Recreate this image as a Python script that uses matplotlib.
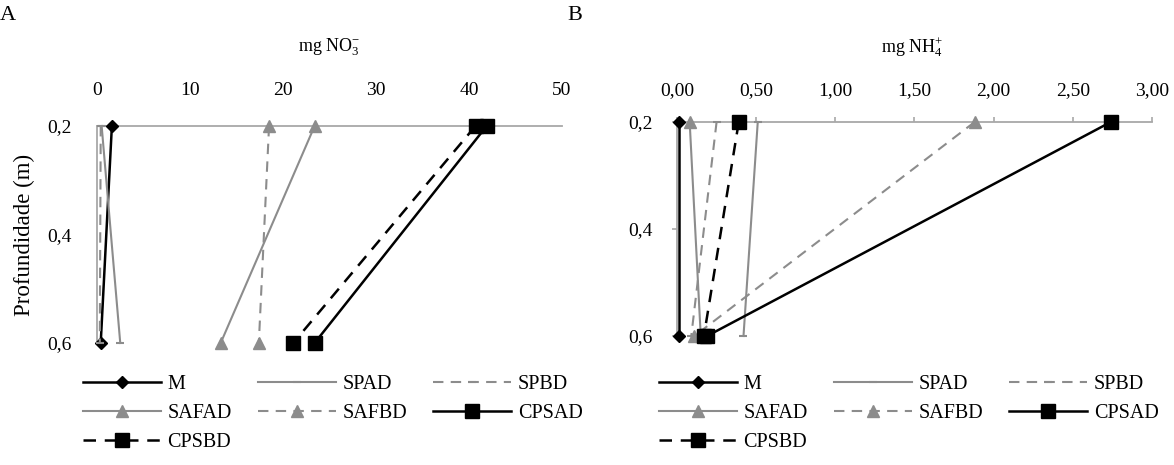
import numpy as np
import matplotlib
matplotlib.use('Agg')
import matplotlib.pyplot as plt
from matplotlib.ticker import FuncFormatter

plt.rcParams['font.family'] = ['Liberation Serif', 'DejaVu Serif']
plt.rcParams['mathtext.default'] = 'regular'

# profundidade (m)
depth = [0.2, 0.6]
series = ['M', 'SPAD', 'SPBD', 'SAFAD', 'SAFBD', 'CPSAD', 'CPSBD']

# A - mg NO3-
no3_M = [1.6, 0.4]
no3_SPAD = [0.5, 2.5]
no3_SPBD = [0.4, 0.3]
no3_SAFAD = [23.4, 13.3]
no3_SAFBD = [18.5, 17.4]
no3_CPSAD = [41.9, 23.4]
no3_CPSBD = [40.7, 21.1]

# B - mg NH4+
nh4_M = [0.01, 0.01]
nh4_SPAD = [0.51, 0.42]
nh4_SPBD = [0.25, 0.09]
nh4_SAFAD = [0.08, 0.15]
nh4_SAFBD = [1.88, 0.11]
nh4_CPSAD = [2.74, 0.19]
nh4_CPSBD = [0.39, 0.17]

no3_ticks = [0, 10, 20, 30, 40, 50]
nh4_ticks = [0, 0.5, 1.0, 1.5, 2.0, 2.5, 3.0]
depth_ticks = [0.2, 0.4, 0.6]

GRAY = '#8c8c8c'
AXGRAY = '#a8a8a8'
DASH = (0, (5, 3.5))
styles = {
    'M':     dict(color='black', ls='-', marker='D', ms=6, lw=1.8),
    'SPAD':  dict(color=GRAY, ls='-', marker='_', ms=6, mew=1.5, lw=1.5),
    'SPBD':  dict(color=GRAY, ls=DASH, marker='_', ms=6, mew=1.5, lw=1.5),
    'SAFAD': dict(color=GRAY, ls='-', marker='^', ms=9, lw=1.5),
    'SAFBD': dict(color=GRAY, ls=DASH, marker='^', ms=9, lw=1.5),
    'CPSAD': dict(color='black', ls='-', marker='s', ms=10, lw=1.8),
    'CPSBD': dict(color='black', ls=DASH, marker='s', ms=10, lw=1.8),
}
# legend is filled row by row in the original
leg_order = ['M', 'SAFAD', 'CPSBD', 'SPAD', 'SAFBD', 'SPBD', 'CPSAD']


def comma(fmt):
    return FuncFormatter(lambda v, p: (fmt % v).replace('.', ','))


def draw(ax, data, xticks, xfmt, xmax, with_ticks):
    lines = {}
    for name, vals in zip(series, data):
        l, = ax.plot(vals, depth, label=name, clip_on=False, zorder=3, **styles[name])
        lines[name] = l
    ax.set_xlim(0, xmax)
    ax.set_ylim(0.6, 0.2)
    ax.xaxis.tick_top()
    ax.set_xticks(xticks)
    ax.set_yticks(depth_ticks)
    ax.xaxis.set_major_formatter(comma(xfmt))
    ax.yaxis.set_major_formatter(comma('%.1f'))
    for s in ['bottom', 'right']:
        ax.spines[s].set_visible(False)
    for s in ['top', 'left']:
        ax.spines[s].set_color(AXGRAY)
        ax.spines[s].set_linewidth(1.3)
    if with_ticks:
        ax.tick_params(axis='x', top=True, length=3.6, color=AXGRAY, width=1.2,
                       labelsize=14, pad=13)
        ax.tick_params(axis='y', length=3.6, color=AXGRAY, width=1.2,
                       labelsize=14, pad=13.7)
    else:
        ax.tick_params(axis='x', top=True, length=0, labelsize=14, pad=19.4)
        ax.tick_params(axis='y', length=0, labelsize=14, pad=18)
    return [lines[n] for n in leg_order]


fig = plt.figure(figsize=(11.74, 4.65), dpi=100)
W, H = 1174.0, 465.0
axA = fig.add_axes([97 / W, 1 - 343 / H, 465 / W, 217 / H])
axB = fig.add_axes([677 / W, 1 - 336 / H, 475 / W, 214 / H])

la = draw(axA, [no3_M, no3_SPAD, no3_SPBD, no3_SAFAD, no3_SAFBD, no3_CPSAD, no3_CPSBD],
          no3_ticks, '%d', 50, False)
lb = draw(axB, [nh4_M, nh4_SPAD, nh4_SPBD, nh4_SAFAD, nh4_SAFBD, nh4_CPSAD, nh4_CPSBD],
          nh4_ticks, '%.2f', 3.0, True)

axA.set_ylabel('Profundidade (m)', fontsize=16.5)
axA.yaxis.set_label_coords(-62 / 465, 0.5)

fig.text(329.5 / W, 1 - 47 / H, 'mg NO$_3^{-}$', ha='center', va='center', fontsize=13)
fig.text(912 / W, 1 - 47 / H, 'mg NH$_4^{+}$', ha='center', va='center', fontsize=13)
fig.text(0 / W, 1 - 15 / H, 'A', ha='left', va='center', fontsize=16)
fig.text(575 / W, 1 - 15 / H, 'B', ha='center', va='center', fontsize=16)

leg_kw = dict(loc='upper left', ncol=3, frameon=False, fontsize=14.5,
              handlelength=3.85, handletextpad=0.35, columnspacing=1.3,
              labelspacing=0.5, borderpad=0, borderaxespad=0)
fig.legend(handles=la, bbox_to_anchor=(83 / W, 1 - 375 / H), **leg_kw)
fig.legend(handles=lb, bbox_to_anchor=(659 / W, 1 - 375 / H), **leg_kw)

fig.savefig('out.png', dpi=100)
